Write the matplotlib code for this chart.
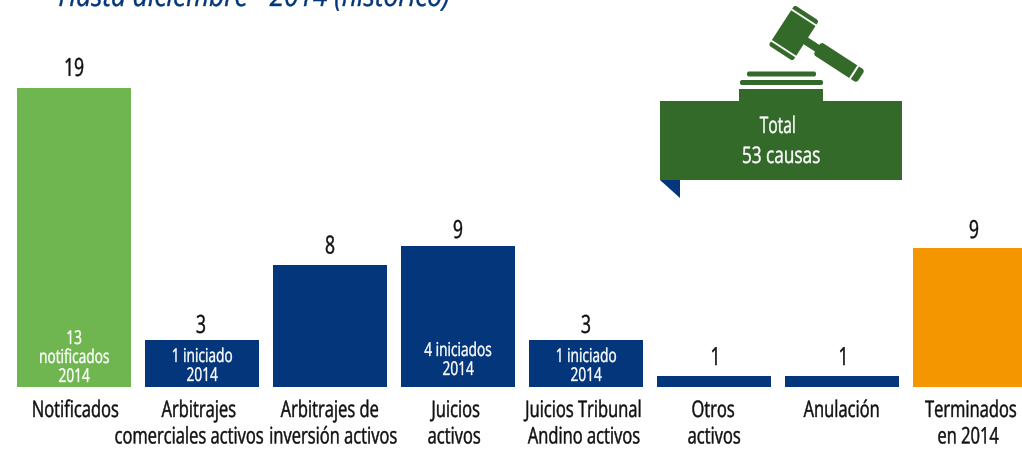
#!/usr/bin/env python3
import matplotlib
matplotlib.use("Agg")
import matplotlib.pyplot as plt
from matplotlib.patches import FancyBboxPatch, Polygon, Rectangle
from matplotlib.patheffects import AbstractPathEffect
from matplotlib.transforms import Affine2D

plt.rcParams["font.family"] = ["Open Sans", "DejaVu Sans"]

TITLE = "Hasta diciembre - 2014 (histórico)"
categories = [
    "Notificados",
    "Arbitrajes\ncomerciales activos",
    "Arbitrajes de\ninversión activos",
    "Juicios\nactivos",
    "Juicios Tribunal\nAndino activos",
    "Otros\nactivos",
    "Anulación",
    "Terminados\nen 2014",
]
values = [19, 3, 8, 9, 3, 1, 1, 9]
# bars in the original are not quite to scale, heights read off the picture
bar_heights = [19.05, 3.0, 7.8, 8.98, 3.0, 0.7, 0.7, 8.85]
inner_labels = ["13\nnotificados\n2014", "1 iniciado\n2014", "", "4 iniciados\n2014", "1 iniciado\n2014", "", "", ""]

GREEN = "#70B650"
BLUE = "#03367A"
ORANGE = "#F49600"
DARK = "#336A29"
INK = "#111111"
bar_colors = [GREEN, BLUE, BLUE, BLUE, BLUE, BLUE, BLUE, ORANGE]

W, H = 1022, 450
BASE = 387
STEP = 128
X0 = 74
UNIT = 15.7

# hand placed text positions, pixels
value_x = [74, 201, 330, 458, 586, 716, 844, 974]
value_gap = [12, 7, 11, 8, 7, 11, 11, 10]
inner_base = [382, 381, 0, 375, 381, 0, 0, 0]
cat_x = [(75,), (199, 189), (330, 333), (456, 454), (584, 584), (713, 714), (842,), (971, 968)]


class Squeeze(AbstractPathEffect):
    # no condensed face installed, so narrow each text line around its own centre
    def __init__(self, sx):
        super().__init__()
        self.sx = sx

    def draw_path(self, renderer, gc, tpath, affine, rgbFace=None):
        box = tpath.get_extents(affine)
        mid = (box.x0 + box.x1) / 2
        squeezed = affine + Affine2D().translate(-mid, 0).scale(self.sx, 1).translate(mid, 0)
        # thin outline, the reference face is a bit heavier
        gc0 = renderer.new_gc()
        gc0.copy_properties(gc)
        gc0.set_linewidth(0.3)
        gc0.set_foreground(rgbFace)
        renderer.draw_path(gc0, tpath, squeezed, rgbFace)
        gc0.restore()


fig = plt.figure(figsize=(W / 100, H / 100), dpi=100)
ax = fig.add_axes([0, 0, 1, 1])
ax.set_xlim(-X0 / STEP, (W - X0) / STEP)
ax.set_ylim(-(H - BASE) / UNIT, BASE / UNIT)
ax.axis("off")

xs = list(range(len(categories)))
ax.bar(xs, bar_heights, width=114 / STEP, color=bar_colors, linewidth=0)

# overlay in pixels for the texts and the gavel
ov = fig.add_axes([0, 0, 1, 1])
ov.set_xlim(0, W)
ov.set_ylim(H, 0)
ov.axis("off")
ov.patch.set_alpha(0)


def label(x, y, s, size, color=INK, sx=0.72, **kw):
    return ov.text(x, y, s, fontsize=size, color=color, ha="center", va="baseline",
                   path_effects=[Squeeze(sx)], **kw)


label(254, 6, TITLE, 21.5, color=BLUE, sx=0.88, style="italic")

for i, (val, h, lab) in enumerate(zip(values, bar_heights, inner_labels)):
    cx = X0 + i * STEP
    top = BASE - h * UNIT
    label(value_x[i], top - value_gap[i], str(val), 18, sx=0.7)
    if lab:
        for n, line in enumerate(reversed(lab.split("\n"))):
            label(cx, inner_base[i] - n * 19, line, 13.7, color="white", sx=0.72)
    for n, line in enumerate(categories[i].split("\n")):
        label(cat_x[i][n], 417 + n * 26.5, line, 16.5, sx=0.72)

# total box with ribbon corner
ov.add_patch(Polygon([(660, 180), (680, 180), (680, 198)], color=BLUE, lw=0))
ov.add_patch(Rectangle((660, 101), 242, 79, color=DARK, lw=0))
label(778, 133, "Total", 16.5, color="white", sx=0.68)
label(781, 163, "53 causas", 16.5, color="white", sx=0.75)

# gavel base
ov.add_patch(Rectangle((739, 89), 84, 12, color=DARK, lw=0))
ov.add_patch(FancyBboxPatch((740, 80), 83, 5, boxstyle="round,pad=0,rounding_size=2", color=DARK, lw=0))
ov.add_patch(FancyBboxPatch((747, 71.5), 69, 5, boxstyle="round,pad=0,rounding_size=2", color=DARK, lw=0))

# gavel, local x runs along the handle, y along the head
tr = Affine2D().rotate_deg(33).translate(793.7, 33) + ov.transData
parts = [
    FancyBboxPatch((-14.5, -24), 29, 48, boxstyle="round,pad=0,rounding_size=2.5", color=DARK, lw=0),
    Rectangle((14, -4), 16, 8, color=DARK, lw=0),
    FancyBboxPatch((28, -7.5), 52, 15, boxstyle="round,pad=0,rounding_size=3", color=DARK, lw=0),
    Rectangle((-15, -19.5), 30, 1.8, color="white", lw=0),
    Rectangle((-15, 17.7), 30, 1.8, color="white", lw=0),
    Rectangle((71, -8), 2, 16, color="white", lw=0),
]
for p in parts:
    p.set_transform(tr)
    ov.add_patch(p)

fig.savefig("out.png", dpi=100)
plt.close(fig)
